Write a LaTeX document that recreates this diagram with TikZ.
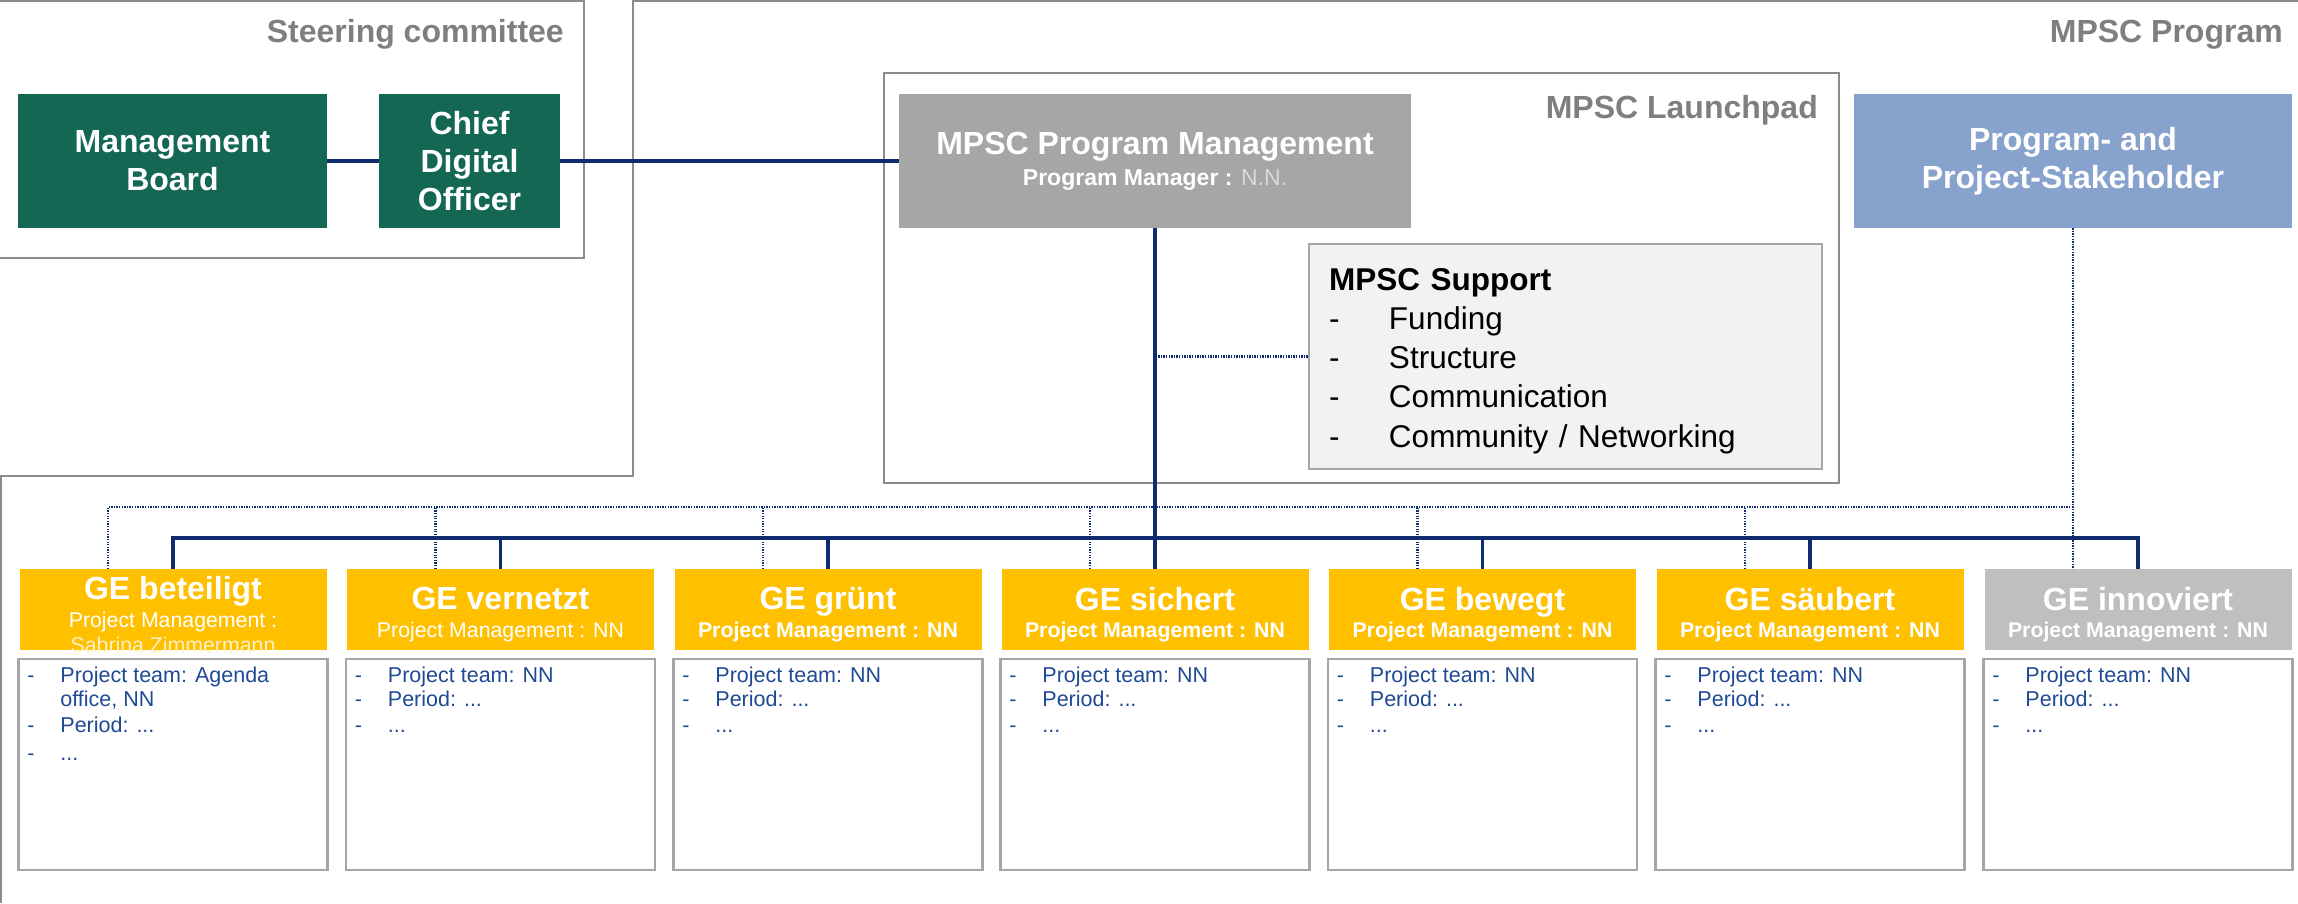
\documentclass[tikz,border=0pt]{standalone}
\usepackage{fontspec}
\setmainfont{Liberation Sans}
\usepackage{tikz}

\definecolor{boardgreen}{HTML}{136753}
\definecolor{linknavy}{HTML}{0E2C6E}
\definecolor{pmgray}{HTML}{A6A6A6}
\definecolor{stakeblue}{HTML}{87A2CD}
\definecolor{geyellow}{HTML}{FFC000}
\definecolor{geinactive}{HTML}{BFBFBF}
\definecolor{framegray}{HTML}{8C8C8C}
\definecolor{boxgray}{HTML}{A6A6A6}
\definecolor{supportfill}{HTML}{F2F2F2}
\definecolor{titlegray}{HTML}{7F7F7F}
\definecolor{teamblue}{HTML}{1F4A93}
\definecolor{nngray}{HTML}{D9D9D9}
\definecolor{namefaint}{HTML}{FFF0C8}
\newcommand{\pmsub}{\fontsize{21.3}{26}\selectfont}
\newcommand{\dashitem}{\makebox[33pt][l]{-}}

\begin{document}
\begin{tikzpicture}[x=1pt,y=-1pt,
    every node/.style={font=\fontsize{32}{38}\selectfont, inner sep=0pt},
    groupframe/.style={draw=framegray, line width=2.5pt},
    grouptitle/.style={anchor=base east, text=titlegray, font=\fontsize{32}{38}\selectfont\bfseries},
    topbox/.style={align=center, text=white, minimum height=134pt, font=\fontsize{32}{38}\selectfont\bfseries},
    gehead/.style={fill=geyellow, minimum width=307pt, minimum height=81pt},
    getext/.style={yshift=-5pt, align=center, text=white, font=\fontsize{32}{27.5}\selectfont\bfseries},
    teambox/.style={draw=boxgray, line width=2.5pt, minimum width=309pt, minimum height=211pt},
    teamtext/.style={anchor=north west, align=left, text=teamblue, font=\fontsize{21.5}{23.5}\selectfont},
    solidlink/.style={draw=linknavy, line width=3.8pt},
    dotlink/.style={draw=linknavy, line width=2.2pt, dash pattern=on 1.3pt off 1.3pt}]
    \useasboundingbox (0,0) rectangle (2298,903);

    % groups
    \draw[groupframe] (0,1) -- (584,1) -- (584,258) -- (0,258);
    \draw[groupframe] (2298,1) -- (633,1) -- (633,476) -- (1,476) -- (1,903);
    \node[grouptitle] (sctitle) at (564,42) {Steering committee};
    \node[grouptitle] (prtitle) at (2283,42) {MPSC Program};
    \node[groupframe, minimum width=955pt, minimum height=410pt] (lp) at (1361.5,278) {};
    \node[grouptitle] (lptitle) at (1818,118) {MPSC Launchpad};

    % top row
    \node[topbox, fill=boardgreen, minimum width=309pt] (mb) at (172.5,161) {Management\\Board};
    \node[topbox, fill=boardgreen, minimum width=181pt] (cdo) at (469.5,161) {Chief\\Digital\\Officer};
    \node[topbox, fill=pmgray, minimum width=512pt] (pm) at (1155,161)
        {MPSC Program Management\\[-7pt]{\fontsize{23}{26}\selectfont Program Manager : {\mdseries\color{nngray}N.N.}}};
    \node[topbox, fill=stakeblue, minimum width=438pt] (sh) at (2073,161) {Program- and\\Project-Stakeholder};

    \node[draw=boxgray, fill=supportfill, line width=2.5pt, minimum width=513pt, minimum height=225pt] (sup) at (1565.5,356.5) {};
    \node[text width=473pt, align=left, font=\fontsize{31.5}{39.2}\selectfont] (suptext) at ([yshift=-4.4pt]sup.center)
        {\textbf{MPSC Support}\\
         \makebox[60pt][l]{-}Funding\\
         \makebox[60pt][l]{-}Structure\\
         \makebox[60pt][l]{-}Communication\\
         \makebox[60pt][l]{-}Community / Networking};

    % GE projects
    \node[gehead, label={[getext]center:{GE beteiligt\\{\pmsub\mdseries Project Management :}\\[-2pt]{\pmsub\mdseries\color{namefaint}Sabrina Zimmermann}}}] (g1) at (173,609.5) {};
    \node[gehead, label={[getext]center:{GE vernetzt\\{\pmsub\mdseries Project Management : NN}}}] (g2) at (500.5,609.5) {};
    \node[gehead, label={[getext]center:{GE grünt\\{\pmsub Project Management : NN}}}] (g3) at (828,609.5) {};
    \node[gehead, label={[getext]center:{GE sichert\\{\pmsub Project Management : NN}}}] (g4) at (1155,609.5) {};
    \node[gehead, label={[getext]center:{GE bewegt\\{\pmsub Project Management : NN}}}] (g5) at (1482.5,609.5) {};
    \node[gehead, label={[getext]center:{GE säubert\\{\pmsub Project Management : NN}}}] (g6) at (1810,609.5) {};
    \node[gehead, fill=geinactive, label={[getext]center:{GE innoviert\\{\pmsub Project Management : NN}}}] (g7) at (2138,609.5) {};

    \node[teambox] (d1) at (173,764.5) {};
    \node[teambox] (d2) at (500.5,764.5) {};
    \node[teambox] (d3) at (828,764.5) {};
    \node[teambox] (d4) at (1155,764.5) {};
    \node[teambox] (d5) at (1482.5,764.5) {};
    \node[teambox] (d6) at (1810,764.5) {};
    \node[teambox] (d7) at (2138,764.5) {};

    \node[teamtext] (t1) at ([xshift=10pt,yshift=-9pt]d1.north west)
        {\dashitem Project team: Agenda\\\makebox[33pt][l]{}office, NN\\[3pt]\dashitem Period: ...\\[4pt]\dashitem ...};
    \node[teamtext] (t2) at ([xshift=10pt,yshift=-9pt]d2.north west) {\dashitem Project team: NN\\\dashitem Period: ...\\[3pt]\dashitem ...};
    \node[teamtext] (t3) at ([xshift=10pt,yshift=-9pt]d3.north west) {\dashitem Project team: NN\\\dashitem Period: ...\\[3pt]\dashitem ...};
    \node[teamtext] (t4) at ([xshift=10pt,yshift=-9pt]d4.north west) {\dashitem Project team: NN\\\dashitem Period: ...\\[3pt]\dashitem ...};
    \node[teamtext] (t5) at ([xshift=10pt,yshift=-9pt]d5.north west) {\dashitem Project team: NN\\\dashitem Period: ...\\[3pt]\dashitem ...};
    \node[teamtext] (t6) at ([xshift=10pt,yshift=-9pt]d6.north west) {\dashitem Project team: NN\\\dashitem Period: ...\\[3pt]\dashitem ...};
    \node[teamtext] (t7) at ([xshift=10pt,yshift=-9pt]d7.north west) {\dashitem Project team: NN\\\dashitem Period: ...\\[3pt]\dashitem ...};

    % connectors
    \coordinate (bus) at (0,538);
    \coordinate (dotrow) at (0,507);
    \draw[solidlink] (mb) -- (cdo);
    \draw[solidlink] (cdo) -- (pm);
    \draw[solidlink] (pm.south) -- (pm.south |- bus);
    \draw[solidlink] (g1.north) |- (g7.north |- bus) -- (g7.north);
    \draw[solidlink] (g2.north) -- (g2.north |- bus);
    \draw[solidlink] (g3.north) -- (g3.north |- bus);
    \draw[solidlink] (g4.north) -- (g4.north |- bus);
    \draw[solidlink] (g5.north) -- (g5.north |- bus);
    \draw[solidlink] (g6.north) -- (g6.north |- bus);

    \draw[dotlink] (sup.west) -- (sup.west -| pm.south);
    \draw[dotlink] (sh.south) -- ([xshift=-65pt]g7.north);
    \draw[dotlink] ([xshift=-65pt]g1.north) |- (sh.south |- dotrow);
    \draw[dotlink] ([xshift=-65pt]g2.north) -- ++(0,-62);
    \draw[dotlink] ([xshift=-65pt]g3.north) -- ++(0,-62);
    \draw[dotlink] ([xshift=-65pt]g4.north) -- ++(0,-62);
    \draw[dotlink] ([xshift=-65pt]g5.north) -- ++(0,-62);
    \draw[dotlink] ([xshift=-65pt]g6.north) -- ++(0,-62);
\end{tikzpicture}
\end{document}
